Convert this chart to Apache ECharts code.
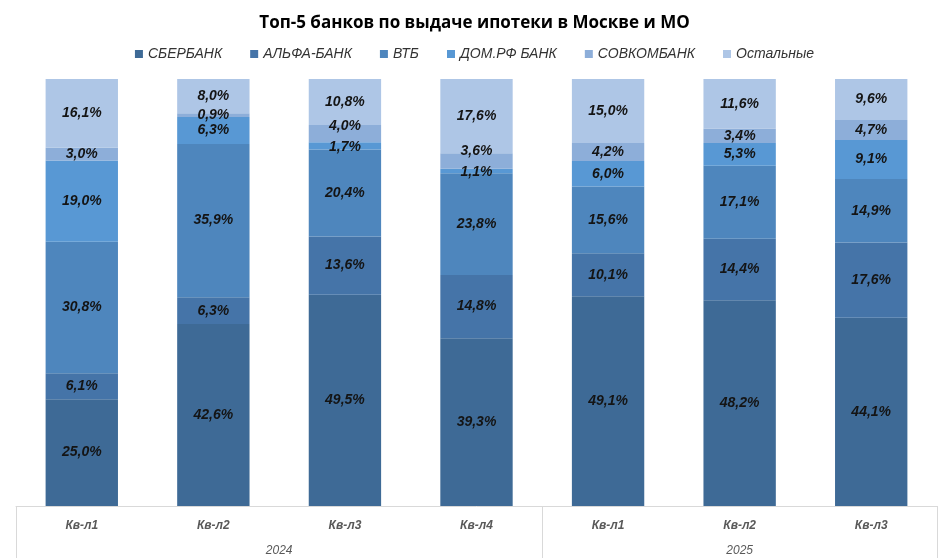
<!DOCTYPE html>
<html><head><meta charset="utf-8">
<script src="https://cdn.jsdelivr.net/npm/echarts@6/dist/echarts.min.js"></script>
<style>html,body{margin:0;padding:0;background:#fff}#c{width:949px;height:558px}</style>
</head><body><div id="c"></div>
<script>
const quarters = ['Кв-л1','Кв-л2','Кв-л3','Кв-л4','Кв-л1','Кв-л2','Кв-л3'];
const years = ['2024','2025'];
const seriesNames = ['СБЕРБАНК','АЛЬФА-БАНК','ВТБ','ДОМ.РФ БАНК','СОВКОМБАНК','Остальные'];
const sber    = [25.0, 42.6, 49.5, 39.3, 49.1, 48.2, 44.1];
const alfa    = [6.1, 6.3, 13.6, 14.8, 10.1, 14.4, 17.6];
const vtb     = [30.8, 35.9, 20.4, 23.8, 15.6, 17.1, 14.9];
const domrf   = [19.0, 6.3, 1.7, 1.1, 6.0, 5.3, 9.1];
const sovcom  = [3.0, 0.9, 4.0, 3.6, 4.2, 3.4, 4.7];
const others  = [16.1, 8.0, 10.8, 17.6, 15.0, 11.6, 9.6];
const values = [sber, alfa, vtb, domrf, sovcom, others];
const colors = ['#3e6a96','#4574a8','#4e86bd','#5898d4','#8daed9','#aec6e6'];
const FONT = '"Liberation Sans Narrow", "Liberation Sans", sans-serif';

// nudge labels of thin neighbouring segments apart (like Excel does)
function nudge(seriesIdx) {
  return function (p) {
    const d = domrf[p.dataIndex];
    if (d >= 2.5) return {};
    if (seriesIdx === 4) return {dy: -(4 + (2.5 - d) * 4)};
    if (seriesIdx === 3) return {dy: 1};
    return {};
  };
}

const chart = echarts.init(document.getElementById('c'));
chart.setOption({
  animation: false,
  title: {
    text: 'Топ-5 банков по выдаче ипотеки в Москве и МО',
    left: 'center', top: 10,
    textStyle: {fontFamily: '"Open Sans", sans-serif', fontSize: 17, fontWeight: 'bold', color: '#000'}
  },
  legend: {
    top: 42, left: 'center', itemWidth: 8, itemHeight: 8, itemGap: 28, icon: 'rect',
    textStyle: {fontFamily: FONT, fontStyle: 'italic', fontSize: 14, color: '#333'}
  },
  grid: {left: 16, right: 12, top: 79, bottom: 52},
  xAxis: [{
    type: 'category', data: quarters, position: 'bottom',
    axisLine: {lineStyle: {color: '#d9d9d9'}},
    axisTick: {show: false},
    axisLabel: {margin: 14, fontFamily: FONT, fontStyle: 'italic', fontWeight: 'bold', fontSize: 12, color: '#595959'}
  }, {
    type: 'value', min: 0, max: 7, position: 'bottom',
    axisLine: {show: false},
    splitLine: {show: false},
    axisTick: {show: true, customValues: [0, 4, 7], length: 52, lineStyle: {color: '#d9d9d9'}},
    axisLabel: {
      customValues: [2, 5.5], margin: 39,
      formatter: v => v < 4 ? years[0] : years[1],
      fontFamily: FONT, fontStyle: 'italic', fontSize: 12, color: '#595959'
    }
  }],
  yAxis: {type: 'value', min: 0, max: 100, show: false, splitLine: {show: false}},
  series: seriesNames.map((name, i) => ({
    name, type: 'bar', stack: 'total', xAxisIndex: 0, barCategoryGap: '45%',
    data: values[i],
    itemStyle: {color: colors[i]},
    labelLayout: nudge(i),
    label: {
      show: true, position: 'inside',
      formatter: p => p.value.toFixed(1).replace('.', ',') + '%',
      fontFamily: FONT, fontStyle: 'italic', fontWeight: 'bold', fontSize: 14, color: '#141414'
    }
  }))
});
</script></body></html>
